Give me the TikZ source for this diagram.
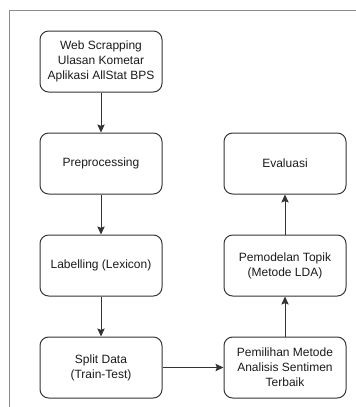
\documentclass[tikz,border=0pt]{standalone}
\usepackage{fontspec}
\setmainfont{Liberation Sans}
\usepackage{tikz}
\usetikzlibrary{arrows.meta, positioning}
\definecolor{BoxLine}{HTML}{333333}
\definecolor{FrameGray}{HTML}{8C8C8C}
\definecolor{TextBlack}{HTML}{1A1A1A}
\tikzset{%
  step_block/.style={%
    draw=BoxLine,%
    rectangle,%
    rounded corners=6.5pt,%
    line width=0.75pt,%
    minimum width=91.5pt,%
    minimum height=45.75pt,%
    inner sep=0pt,%
    text=TextBlack,%
    font={\fontsize{9}{11.25}\selectfont},%
    align=center,%
  },
  flow_path/.style={%
    color=BoxLine,%
    line width=0.75pt,%
    line join=round,%
  },
  arrow/.style={-{Stealth[length=6pt, width=5.5pt, inset=1pt]}},
  frame/.style={%
    draw=FrameGray,%
    line width=0.75pt,%
  },
}
\begin{document}
\begin{tikzpicture}[x=0.75pt, y=0.75pt]

    \useasboundingbox (0,0) rectangle (356,-407);
    \draw [frame] (9.5,-407) |- (356,-10.5);

    \node [step_block] at (101,-61.5) (Scrap)
      {Web Scrapping\\Ulasan Kometar\\Aplikasi AllStat BPS};
    \node [step_block, below = 40 of Scrap] (Prep) {Preprocessing};
    \node [step_block, below = 40 of Prep] (Label) {Labelling (Lexicon)};
    \node [step_block, below = 40 of Label] (Split) {Split Data\\(Train-Test)};
    \node [step_block, right = 61 of Split] (Pilih)
      {Pemilihan Metode\\Analisis Sentimen\\Terbaik};
    \node [step_block, above = 40 of Pilih] (LDA)
      {Pemodelan Topik\\(Metode LDA)};
    \node [step_block, above = 40 of LDA] (Eval) {Evaluasi};

    \draw [arrow, flow_path]
      (Scrap.south) -- (Prep.north);
    \draw [arrow, flow_path]
      (Prep.south) -- (Label.north);
    \draw [arrow, flow_path]
      (Label.south) -- (Split.north);
    \draw [arrow, flow_path]
      (Split.east) -- (Pilih.west);
    \draw [arrow, flow_path]
      (Pilih.north) -- (LDA.south);
    \draw [arrow, flow_path]
      (LDA.north) -- (Eval.south);

  \end{tikzpicture}
\end{document}
